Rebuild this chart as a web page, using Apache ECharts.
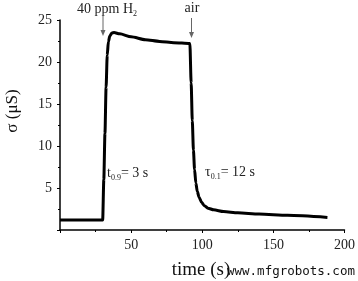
<!DOCTYPE html>
<html>
<head>
<meta charset="utf-8">
<script src="https://cdn.jsdelivr.net/npm/echarts@6/dist/echarts.min.js"></script>
<style>
  html, body { margin: 0; padding: 0; background: #fff; }
  #chart { width: 358px; height: 281px; }
</style>
</head>
<body>
<div id="chart"></div>
<script>
// time (s) / conductivity (uS)
var timeS = [0, 30, 30.8, 31.6, 32.4, 33.2, 34, 35, 36.5, 38, 42, 50, 60, 70, 80, 91.3,
  92.2, 93, 93.8, 94.6, 95.5, 96.5, 97.8, 99.5, 101.5, 104, 108, 115, 125, 140, 160, 188];
var sigma = [1.2, 1.2, 6, 11.5, 17, 20.8, 22.4, 23.1, 23.45, 23.5, 23.35, 23.0, 22.65, 22.45, 22.3, 22.2,
  17.5, 13, 9.5, 7.2, 5.6, 4.6, 3.9, 3.3, 2.9, 2.6, 2.4, 2.2, 2.05, 1.9, 1.75, 1.5];
var xTicks = [50, 100, 150, 200];
var yTicks = [5, 10, 15, 20, 25];

var serif = '"Liberation Serif", "DejaVu Serif", serif';
var points = timeS.map(function(t, i) { return [t, sigma[i]]; });

var myChart = echarts.init(document.getElementById('chart'));
var option = {
  animation: false,
  grid: { left: 60, right: 11, top: 20, bottom: 51 },
  xAxis: {
    type: 'value', min: 0, max: 200, interval: 50,
    axisLine: { lineStyle: { color: '#000', width: 1.5 } },
    axisTick: { length: 3, lineStyle: { color: '#000' } },
    minorTick: { show: true, splitNumber: 2, length: 2, lineStyle: { color: '#000' } },
    splitLine: { show: false },
    axisLabel: {
      color: '#222', fontFamily: serif, fontSize: 14, margin: 8,
      formatter: function(v) { return xTicks.indexOf(v) >= 0 ? String(v) : ''; }
    }
  },
  yAxis: {
    type: 'value', min: 0, max: 25, interval: 5,
    axisLine: { show: true, lineStyle: { color: '#000', width: 1.5 } },
    axisTick: { show: true, length: 3, lineStyle: { color: '#000' } },
    minorTick: { show: true, splitNumber: 2, length: 2, lineStyle: { color: '#000' } },
    splitLine: { show: false },
    axisLabel: {
      color: '#222', fontFamily: serif, fontSize: 14, margin: 8,
      formatter: function(v) { return yTicks.indexOf(v) >= 0 ? String(v) : ''; }
    }
  },
  series: [{
    type: 'line',
    data: points,
    showSymbol: false,
    smooth: 0.25,
    smoothMonotone: 'x',
    lineStyle: { color: '#000', width: 3 }
  }],
  graphic: [
    // axis names
    { type: 'text', x: 13, y: 111, rotation: Math.PI / 2,
      style: { text: 'σ (μS)', font: '17px ' + serif, fill: '#111', align: 'center', verticalAlign: 'middle' } },
    { type: 'text', x: 201, y: 270,
      style: { text: 'time (s)', font: '19px ' + serif, fill: '#111', align: 'center', verticalAlign: 'middle' } },
    // annotations
    { type: 'text', x: 107, y: 9,
      style: { text: '40 ppm H{s|2}', font: '14px ' + serif, fill: '#222', align: 'center', verticalAlign: 'middle',
        rich: { s: { fontSize: 8, fontFamily: serif, padding: [9, 0, 0, 0] } } } },
    { type: 'text', x: 192, y: 8,
      style: { text: 'air', font: '14px ' + serif, fill: '#222', align: 'center', verticalAlign: 'middle' } },
    { type: 'line', shape: { x1: 103, y1: 15, x2: 103, y2: 33 }, style: { stroke: '#666', lineWidth: 1 } },
    { type: 'polygon', shape: { points: [[100.5, 30], [105.5, 30], [103, 36]] }, style: { fill: '#666' } },
    { type: 'line', shape: { x1: 191.5, y1: 18, x2: 191.5, y2: 35 }, style: { stroke: '#666', lineWidth: 1 } },
    { type: 'polygon', shape: { points: [[189, 32], [194, 32], [191.5, 38]] }, style: { fill: '#666' } },
    { type: 'text', x: 107, y: 173,
      style: { text: 't{s|0.9}= 3 s', font: '14px ' + serif, fill: '#222', verticalAlign: 'middle',
        rich: { s: { fontSize: 8, fontFamily: serif, padding: [10, 0, 0, 0] } } } },
    { type: 'text', x: 205, y: 172,
      style: { text: 'τ{s|0.1}= 12 s', font: '14px ' + serif, fill: '#222', verticalAlign: 'middle',
        rich: { s: { fontSize: 8, fontFamily: serif, padding: [10, 0, 0, 0] } } } },
    // watermark
    { type: 'text', x: 227, y: 272,
      style: { text: 'www.mfgrobots.com', font: '12.5px "DejaVu Sans Mono", monospace', fill: '#111', verticalAlign: 'middle' } }
  ]
};
myChart.setOption(option);
</script>
</body>
</html>
